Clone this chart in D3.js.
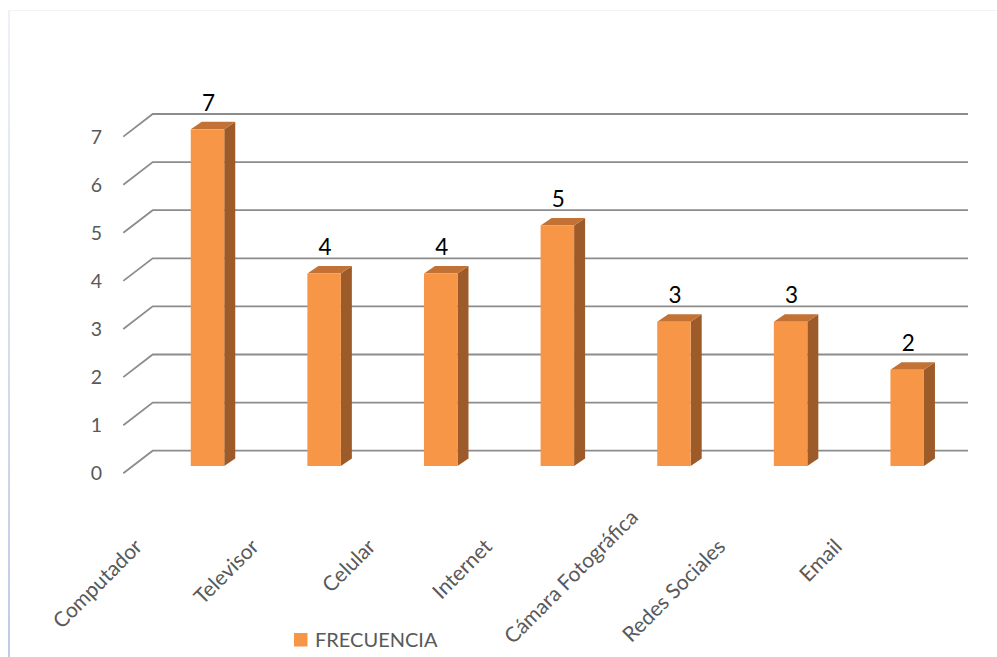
<!DOCTYPE html>
<html>
<head>
<meta charset="utf-8">
<script src="https://cdn.jsdelivr.net/npm/d3@7"></script>
<style>
  body { margin: 0; background: #fff; }
  svg { display: block; font-family: Lato, "Open Sans", "DejaVu Sans", sans-serif; }
</style>
</head>
<body>
<svg id="chart" width="997" height="657"></svg>
<script>
// Data
const categories = ["Computador", "Televisor", "Celular", "Internet", "Cámara Fotográfica", "Redes Sociales", "Email"];
const frecuencia = [7, 4, 4, 5, 3, 3, 2];
const yTicks = [0, 1, 2, 3, 4, 5, 6, 7];
const seriesName = "FRECUENCIA";

const W = 997, H = 657;
const svg = d3.select("#chart");

// Chart frame (light outline of the chart area)
const defs = svg.append("defs");
const grad = defs.append("linearGradient").attr("id", "frameLeft")
  .attr("x1", 0).attr("y1", 0).attr("x2", 0).attr("y2", 1);
grad.append("stop").attr("offset", "0%").attr("stop-color", "#eef1f8");
grad.append("stop").attr("offset", "100%").attr("stop-color", "#bccbe6");
svg.append("rect").attr("x", 8).attr("y", 10).attr("width", 2).attr("height", H - 10)
  .attr("fill", "url(#frameLeft)");
svg.append("line").attr("x1", 8).attr("x2", W).attr("y1", 10.5).attr("y2", 10.5)
  .attr("stroke", "#f1f3f7").attr("stroke-width", 1);

// Scales
const x = d3.scalePoint().domain(categories).range([207.5, 907.2]);
const y = d3.scaleLinear().domain([0, 7]).range([466, 129.3]);

// 3D geometry
const barW = 33.5;
const barDepth = { dx: 11, dy: -7.5 };
const wall = { left: 152.7, right: 968, lift: -15.3 };
const floorDiag = { dx: -29.4, dy: 22.6 };

// Gridlines: back wall horizontal + side wall diagonal
const grid = svg.append("g").attr("fill", "none").attr("stroke", "#8c8c8c").attr("stroke-width", 1.8);
grid.selectAll("path").data(yTicks).join("path")
  .attr("d", t => {
    const yb = y(t) + wall.lift;
    return `M${wall.right},${yb}H${wall.left}l${floorDiag.dx},${floorDiag.dy}`;
  });

// Y tick labels
svg.append("g").selectAll("text").data(yTicks).join("text")
  .attr("x", 102)
  .attr("y", t => y(t) + wall.lift + floorDiag.dy)
  .attr("dy", "0.36em")
  .attr("text-anchor", "end")
  .attr("fill", "#595959")
  .attr("font-size", 19.5)
  .text(t => t);

// Bars
const data = categories.map((c, i) => ({ c, v: frecuencia[i] }));
const bars = svg.append("g").selectAll("g").data(data).join("g");
bars.append("path").attr("fill", "#9c5b29")
  .attr("d", d => {
    const x1 = x(d.c) + barW / 2, yt = y(d.v), yb = y(0);
    return `M${x1},${yt}l${barDepth.dx},${barDepth.dy}V${yb + barDepth.dy}l${-barDepth.dx},${-barDepth.dy}Z`;
  });
bars.append("path").attr("fill", "#c37235")
  .attr("d", d => {
    const x0 = x(d.c) - barW / 2, yt = y(d.v);
    return `M${x0},${yt}l${barDepth.dx},${barDepth.dy}h${barW}l${-barDepth.dx},${-barDepth.dy}Z`;
  });
bars.append("rect").attr("fill", "#f79646")
  .attr("x", d => x(d.c) - barW / 2)
  .attr("y", d => y(d.v))
  .attr("width", barW)
  .attr("height", d => y(0) - y(d.v));

// Value labels
svg.append("g").selectAll("text").data(data).join("text")
  .attr("x", d => x(d.c) + 1)
  .attr("y", d => y(d.v) - 18.5)
  .attr("text-anchor", "middle")
  .attr("fill", "#000")
  .attr("font-size", 22.5)
  .text(d => d.v);

// Category labels, rotated -45°, end-anchored; long ones slide up to stay on the page
const labelEnd = { dx: -64, y: 548 };
const bottomLimit = 645;
const catLabels = svg.append("g").selectAll("text").data(categories).join("text")
  .attr("text-anchor", "end")
  .attr("fill", "#595959")
  .attr("font-size", 21)
  .text(d => d);
catLabels.each(function (d) {
  const len = this.getComputedTextLength() / Math.SQRT2;
  let ex = x(d) + labelEnd.dx, ey = labelEnd.y;
  const over = ey + len - bottomLimit;
  if (over > 0) { ex += over; ey -= over; }
  d3.select(this).attr("transform", `translate(${ex},${ey}) rotate(-45)`);
});

// Legend
const legend = svg.append("g").attr("transform", "translate(294,633)");
legend.append("rect").attr("width", 13.5).attr("height", 13.5).attr("fill", "#f79646");
legend.append("text").attr("x", 21).attr("y", 14)
  .attr("fill", "#595959").attr("font-size", 20).text(seriesName);
</script>
</body>
</html>
